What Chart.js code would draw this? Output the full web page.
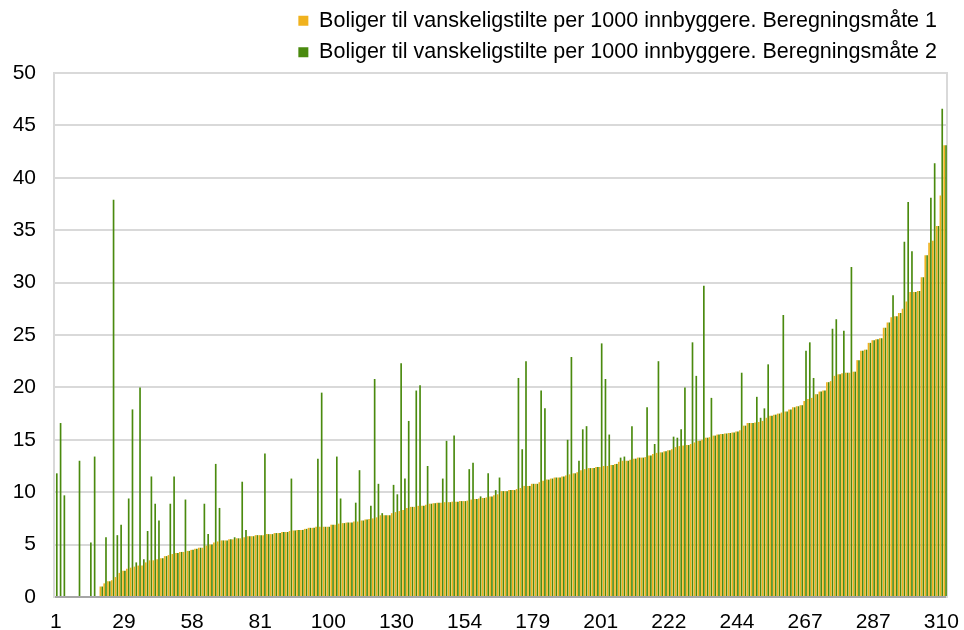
<!DOCTYPE html>
<html>
<head>
<meta charset="utf-8">
<title>Boliger til vanskeligstilte</title>
<script src="https://cdn.jsdelivr.net/npm/chart.js@4.4.1/dist/chart.umd.min.js"></script>
<style>
  body { margin: 0; background: #fff; }
  #wrap { width: 964px; height: 630px; }
</style>
</head>
<body>
<div id="wrap"><canvas id="chart" width="964" height="630"></canvas></div>
<script>
const seriesNames = [
    'Boliger til vanskeligstilte per 1000 innbyggere. Beregningsmåte 1',
    'Boliger til vanskeligstilte per 1000 innbyggere. Beregningsmåte 2'
];

// x-axis labels that are shown, one every 18 categories
const tickLabels = ['1', '29', '58', '81', '100', '130', '154', '179', '201', '222', '244', '267', '287', '310'];
const tickEvery = 18;

const method1 = [
    0, 0, 0, 0, 0, 0, 0, 0, 0, 0, 0, 0,
    1.0, 1.3, 1.5, 1.6, 1.9, 2.3, 2.5, 2.7, 2.8, 2.9, 3.0, 3.0,
    3.3, 3.5, 3.5, 3.6, 3.7, 3.9, 4.0, 4.1, 4.2, 4.3, 4.3, 4.4,
    4.5, 4.6, 4.7, 4.7, 4.9, 5.0, 5.2, 5.3, 5.4, 5.4, 5.5, 5.5,
    5.6, 5.6, 5.7, 5.8, 5.8, 5.9, 5.9, 5.9, 6.0, 6.0, 6.1, 6.1,
    6.2, 6.2, 6.3, 6.35, 6.4, 6.4, 6.5, 6.6, 6.6, 6.7, 6.7, 6.7,
    6.7, 6.9, 6.9, 7.0, 7.05, 7.1, 7.1, 7.2, 7.2, 7.3, 7.4, 7.45,
    7.5, 7.6, 7.8, 7.8, 7.8, 8.0, 8.1, 8.2, 8.3, 8.5, 8.6, 8.6,
    8.7, 8.7, 8.8, 8.9, 8.95, 9.0, 9.0, 9.05, 9.05, 9.1, 9.1, 9.15,
    9.15, 9.2, 9.3, 9.35, 9.4, 9.45, 9.5, 9.6, 9.7, 9.8, 10.1, 10.1,
    10.2, 10.2, 10.3, 10.4, 10.6, 10.6, 10.8, 10.8, 10.95, 11.1, 11.2, 11.3,
    11.4, 11.4, 11.5, 11.6, 11.7, 11.8, 11.9, 12.1, 12.2, 12.3, 12.3, 12.4,
    12.4, 12.5, 12.5, 12.6, 12.7, 12.9, 13.0, 13.0, 13.1, 13.2, 13.3, 13.3,
    13.35, 13.5, 13.65, 13.75, 13.8, 13.9, 14.0, 14.1, 14.3, 14.4, 14.45, 14.5,
    14.6, 14.75, 14.9, 15.0, 15.2, 15.25, 15.4, 15.5, 15.55, 15.6, 15.65, 15.7,
    15.8, 15.9, 16.35, 16.6, 16.6, 16.65, 16.7, 16.8, 17.1, 17.3, 17.4, 17.5,
    17.6, 17.7, 17.9, 18.1, 18.2, 18.3, 18.7, 18.9, 19.0, 19.35, 19.6, 19.7,
    20.5, 20.6, 21.1, 21.25, 21.35, 21.4, 21.4, 21.5, 22.6, 23.5, 23.6, 24.25,
    24.5, 24.6, 24.7, 25.7, 26.2, 26.7, 26.8, 27.1, 27.5, 28.2, 29.1, 29.1,
    29.2, 30.5, 32.6, 33.8, 34.0, 35.4, 38.3, 43.1
];

const method2 = [
    11.8, 16.6, 9.7, 0, 0, 0, 13.0, 0, 0, 5.2, 13.4, 0,
    1.0, 5.7, 1.5, 37.9, 5.9, 6.9, 2.5, 9.4, 17.9, 3.3, 20.0, 3.6,
    6.3, 11.5, 8.9, 7.3, 3.7, 3.9, 8.9, 11.5, 4.2, 4.3, 9.3, 4.4,
    4.5, 4.6, 4.7, 8.9, 6.0, 5.0, 12.7, 8.5, 5.4, 5.4, 5.5, 5.7,
    5.6, 11.0, 6.4, 5.8, 5.8, 5.9, 5.9, 13.7, 6.0, 6.0, 6.1, 6.1,
    6.2, 6.2, 11.3, 6.35, 6.4, 6.4, 6.5, 6.6, 6.6, 13.2, 19.5, 6.7,
    6.7, 6.9, 13.4, 9.4, 7.05, 7.1, 7.1, 9.0, 12.1, 7.3, 7.4, 8.7,
    20.8, 10.8, 8.0, 7.8, 7.8, 10.7, 9.8, 22.3, 11.3, 16.8, 8.6, 19.7,
    20.2, 8.7, 12.5, 8.9, 8.95, 9.0, 11.3, 14.9, 9.05, 15.4, 9.1, 9.15,
    9.15, 12.2, 12.8, 9.35, 9.6, 9.45, 11.8, 9.6, 10.2, 11.4, 10.1, 10.1,
    10.2, 10.2, 20.9, 14.1, 22.5, 10.6, 10.8, 10.8, 19.7, 18.0, 11.2, 11.3,
    11.4, 11.4, 11.5, 15.0, 22.9, 11.8, 13.0, 16.0, 16.3, 12.3, 12.3, 12.4,
    24.2, 20.8, 15.5, 12.6, 12.7, 13.3, 13.4, 13.0, 16.3, 13.2, 13.3, 13.3,
    18.1, 13.5, 14.6, 22.5, 13.8, 13.9, 14.0, 15.3, 15.2, 16.0, 20.0, 14.5,
    24.3, 21.1, 14.9, 29.7, 15.2, 19.0, 15.4, 15.5, 15.55, 15.6, 15.65, 15.7,
    15.8, 21.4, 16.35, 16.6, 16.6, 19.1, 17.1, 18.0, 22.2, 17.3, 17.4, 17.5,
    26.9, 17.7, 17.9, 18.1, 18.2, 18.3, 23.5, 24.3, 20.9, 19.35, 19.6, 19.7,
    20.5, 25.6, 26.5, 21.25, 25.4, 21.4, 31.5, 21.5, 22.6, 23.5, 23.6, 24.25,
    24.5, 24.6, 24.7, 25.7, 26.2, 28.8, 26.8, 27.1, 33.9, 37.7, 33.0, 29.1,
    29.2, 30.5, 32.6, 38.1, 41.4, 35.4, 46.6, 43.1
];

// one category per municipality, in sorted order
const categories = method1.map((v, i) => String(i + 1));

const font = 'Arial, "Liberation Sans", sans-serif';

new Chart(document.getElementById('chart'), {
    type: 'bar',
    data: {
        labels: categories,
        datasets: [
            { label: seriesNames[0], data: method1, backgroundColor: '#F0B21E', barPercentage: 0.92, categoryPercentage: 0.96 },
            { label: seriesNames[1], data: method2, backgroundColor: '#4A8A0E', barPercentage: 0.92, categoryPercentage: 0.96 }
        ]
    },
    options: {
        responsive: false,
        animation: false,
        layout: { padding: { left: 12, right: 17, top: 0, bottom: 0 } },
        plugins: {
            tooltip: { enabled: false },
            legend: {
                position: 'top',
                align: 'end',
                labels: {
                    boxWidth: 10,
                    boxHeight: 10,
                    padding: 10,
                    color: '#000',
                    font: { family: font, size: 21.5 }
                }
            }
        },
        scales: {
            x: {
                grid: { display: false, drawTicks: false },
                border: { display: true, color: '#A6A6A6', width: 2 },
                ticks: {
                    autoSkip: false,
                    maxRotation: 0,
                    minRotation: 0,
                    padding: 13,
                    color: '#000',
                    font: { family: font, size: 21 },
                    callback: (value, index) => index % tickEvery === 0 ? tickLabels[index / tickEvery] : null
                },
                afterFit: scale => {
                    // labels may run into the outer padding, as in the original
                    scale.height = 33;
                    scale.paddingLeft = 0;
                    scale.paddingRight = 0;
                }
            },
            y: {
                min: 0,
                max: 50,
                grid: { color: '#D9D9D9', lineWidth: 2, drawTicks: false },
                border: { display: true, color: '#D9D9D9', width: 2 },
                ticks: {
                    stepSize: 5,
                    padding: 18,
                    color: '#000',
                    font: { family: font, size: 21 }
                },
                afterFit: scale => { scale.width = 42; }
            },
            y2: {
                position: 'right',
                min: 0,
                max: 50,
                grid: { display: false, drawTicks: false },
                border: { display: true, color: '#D9D9D9', width: 2 },
                ticks: { display: false },
                afterFit: scale => { scale.width = 0; }
            }
        }
    }
});
</script>
</body>
</html>
